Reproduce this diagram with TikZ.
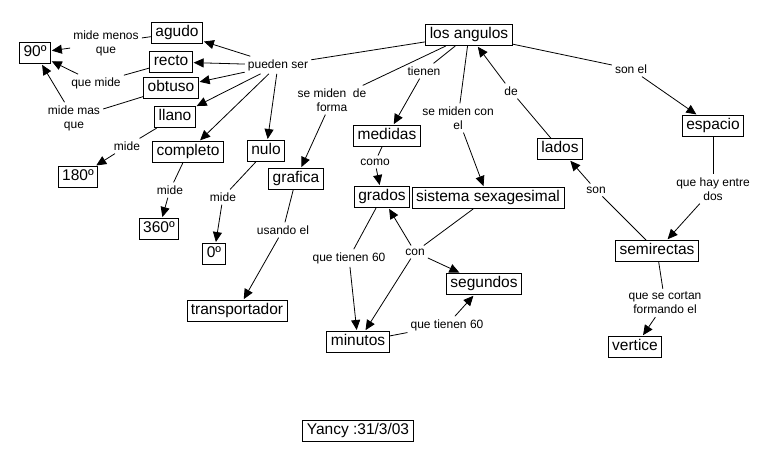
\documentclass[tikz,border=0pt]{standalone}
\usepackage{fontspec}
\setmainfont{Liberation Sans}
\usetikzlibrary{arrows.meta}

\begin{document}
\begin{tikzpicture}[x=1pt,y=-1pt,
concept/.style={draw, line width=0.8pt, font=\fontsize{15.5}{18}\selectfont, inner xsep=4pt, inner ysep=3.5pt, text height=11pt, text depth=3.2pt},
phrase/.style={font=\fontsize{12}{14}\selectfont, align=center, inner sep=3pt},
link/.style={line width=0.8pt},
arr/.style={line width=0.8pt, -{Triangle[length=10pt,width=9pt]}, shorten >=1pt}]

\useasboundingbox (0,0) rectangle (778,463);

\node[concept] (angulos) at (469,35) {los angulos};
\node[concept] (g90) at (35,53) {90º};
\node[concept] (agudo) at (177,33) {agudo};
\node[concept] (recto) at (171,62) {recto};
\node[concept] (obtuso) at (171,88) {obtuso};
\node[concept] (llano) at (175,117) {llano};
\node[concept] (completo) at (188,152) {completo};
\node[concept] (nulo) at (266,151) {nulo};
\node[concept] (grafica) at (296,179) {grafica};
\node[concept] (g180) at (78,177) {180º};
\node[concept] (g360) at (159,229) {360º};
\node[concept] (g0) at (214,254) {0º};
\node[concept] (transportador) at (237,311) {transportador};
\node[concept] (medidas) at (387,136) {medidas};
\node[concept] (grados) at (382,197) {grados};
\node[concept] (sistema) at (488,198) {sistema sexagesimal};
\node[concept] (segundos) at (484,284) {segundos};
\node[concept] (minutos) at (358,342) {minutos};
\node[concept] (lados) at (560,149) {lados};
\node[concept] (espacio) at (713,126) {espacio};
\node[concept] (semirectas) at (657,251) {semirectas};
\node[concept] (vertice) at (635,347) {vertice};
\node[concept] (firma) at (358,431) {Yancy :31/3/03};

\node[phrase] (menosque) at (106,43) {mide menos\\que};
\node[phrase] (quemide) at (96,83) {que mide};
\node[phrase] (masque) at (74,118) {mide mas\\que};
\node[phrase] (pueden) at (278,65) {pueden ser};
\node[phrase] (mideA) at (127,146) {mide};
\node[phrase] (mideB) at (170,190) {mide};
\node[phrase] (mideC) at (223,197) {mide};
\node[phrase] (forma) at (332,100) {se miden\ \ de\\forma};
\node[phrase] (tienen) at (424,71) {tienen};
\node[phrase] (conel) at (458,118) {se miden con\\el};
\node[phrase] (de) at (511,91) {de};
\node[phrase] (sonel) at (631,69) {son el};
\node[phrase] (como) at (375,162) {como};
\node[phrase] (son) at (596,190) {son};
\node[phrase] (entre) at (713,189) {que hay entre\\dos};
\node[phrase] (usando) at (283,230) {usando el};
\node[phrase] (sesentaA) at (349,258) {que tienen 60};
\node[phrase] (con) at (415,252) {con};
\node[phrase] (sesentaB) at (447,325) {que tienen 60};
\node[phrase] (cortan) at (665,303) {que se cortan\\formando el};

\draw[link] (angulos) -- (pueden);
\draw[arr] (pueden) -- (agudo);
\draw[arr] (pueden) -- (recto);
\draw[arr] (pueden) -- (obtuso);
\draw[arr] (pueden) -- (llano);
\draw[arr] (pueden) -- (completo);
\draw[arr] (pueden) -- (nulo);

\draw[link] (agudo) -- (menosque);
\draw[arr] (menosque) -- (g90);
\draw[link] (recto) -- (quemide);
\draw[arr] (quemide) -- (g90);
\draw[link] (obtuso) -- (masque);
\draw[arr] (masque) -- (g90);

\draw[link] (llano) -- (mideA);
\draw[arr] (mideA) -- (g180);
\draw[link] (completo) -- (mideB);
\draw[arr] (mideB) -- (g360);
\draw[link] (nulo) -- (mideC);
\draw[arr] (mideC) -- (g0);

\draw[link] (angulos) -- (forma);
\draw[arr] (forma) -- (grafica);
\draw[link] (grafica) -- (usando);
\draw[arr] (usando) -- (transportador);

\draw[link] (angulos) -- (tienen);
\draw[arr] (tienen) -- (medidas);
\draw[link] (medidas) -- (como);
\draw[arr] (como) -- (grados);

\draw[link] (angulos) -- (conel);
\draw[arr] (conel) -- (sistema);

\draw[link] (grados) -- (sesentaA);
\draw[arr] (sesentaA) -- (minutos);
\draw[link] (sistema) -- (con);
\draw[arr] (con) -- (grados);
\draw[arr] (con) -- (segundos);
\draw[arr] (con) -- (minutos);
\draw[link] (minutos) -- (sesentaB);
\draw[arr] (sesentaB) -- (segundos);

\draw[link] (lados) -- (de);
\draw[arr] (de) -- (angulos);
\draw[link] (angulos) -- (sonel);
\draw[arr] (sonel) -- (espacio);
\draw[link] (espacio) -- (entre);
\draw[arr] (entre) -- (semirectas);
\draw[link] (semirectas) -- (son);
\draw[arr] (son) -- (lados);
\draw[link] (semirectas) -- (cortan);
\draw[arr] (cortan) -- (vertice);

\end{tikzpicture}
\end{document}
